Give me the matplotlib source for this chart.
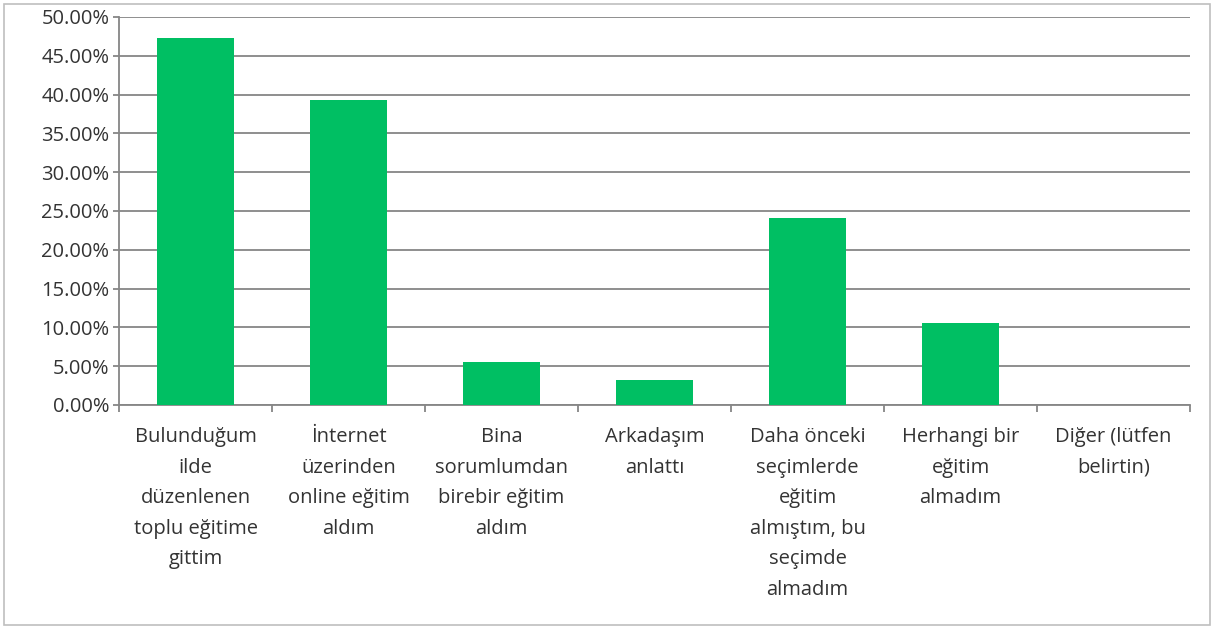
import numpy as np
import matplotlib.pyplot as plt
from matplotlib.patches import Rectangle
from matplotlib.ticker import PercentFormatter, FixedLocator

# Survey answers (Turkish) and the share of respondents
categories = [
    "Bulunduğum\nilde\ndüzenlenen\ntoplu eğitime\ngittim",
    "İnternet\nüzerinden\nonline eğitim\naldım",
    "Bina\nsorumlumdan\nbirebir eğitim\naldım",
    "Arkadaşım\nanlattı",
    "Daha önceki\nseçimlerde\neğitim\nalmıştım, bu\nseçimde\nalmadım",
    "Herhangi bir\neğitim\nalmadım",
    "Diğer (lütfen\nbelirtin)",
]
shares = [47.3, 39.3, 5.5, 3.2, 24.1, 10.6, 0.0]
y_ticks = np.arange(0, 55, 5)

plt.rcParams['font.family'] = ['Open Sans', 'DejaVu Sans']
text_color = '#333333'
grid_color = '#868686'

fig = plt.figure(figsize=(12.15, 6.29), dpi=100)
ax = fig.add_axes([119 / 1215, 1 - 405 / 629, (1190 - 119) / 1215, (405 - 17) / 629])

x = np.arange(len(categories))
ax.bar(x, shares, width=0.5, color='#00BF63', zorder=3)

ax.set_xlim(-0.5, len(categories) - 0.5)
ax.set_ylim(0, 50)
ax.yaxis.set_major_locator(FixedLocator(y_ticks))
ax.yaxis.set_major_formatter(PercentFormatter(decimals=2))
ax.grid(axis='y', color=grid_color, linewidth=1.3, zorder=0)

# category labels centred under each bar, ticks at the boundaries
ax.set_xticks(np.arange(-0.5, len(categories)), minor=False)
ax.set_xticklabels([])
ax.set_xticks(x, minor=True)
ax.set_xticklabels(categories, minor=True, fontsize=14.5, color=text_color,
                   linespacing=1.7, va='top')
ax.tick_params(axis='x', which='minor', length=0, pad=16)
ax.tick_params(axis='x', which='major', length=5, color=grid_color, width=1.3)
ax.tick_params(axis='y', length=4, color=grid_color, width=1.3,
               labelsize=14.5, labelcolor=text_color, pad=3)

for side in ['top', 'right']:
    ax.spines[side].set_visible(False)
for side in ['left', 'bottom']:
    ax.spines[side].set_color(grid_color)
    ax.spines[side].set_linewidth(1.3)

# light frame around the whole chart
fig.patches.append(Rectangle((4 / 1215, 4 / 629), 1206 / 1215, 621 / 629,
                             transform=fig.transFigure, fill=False,
                             edgecolor='#bfbfbf', linewidth=1.2))

fig.savefig('out.png', dpi=100)
